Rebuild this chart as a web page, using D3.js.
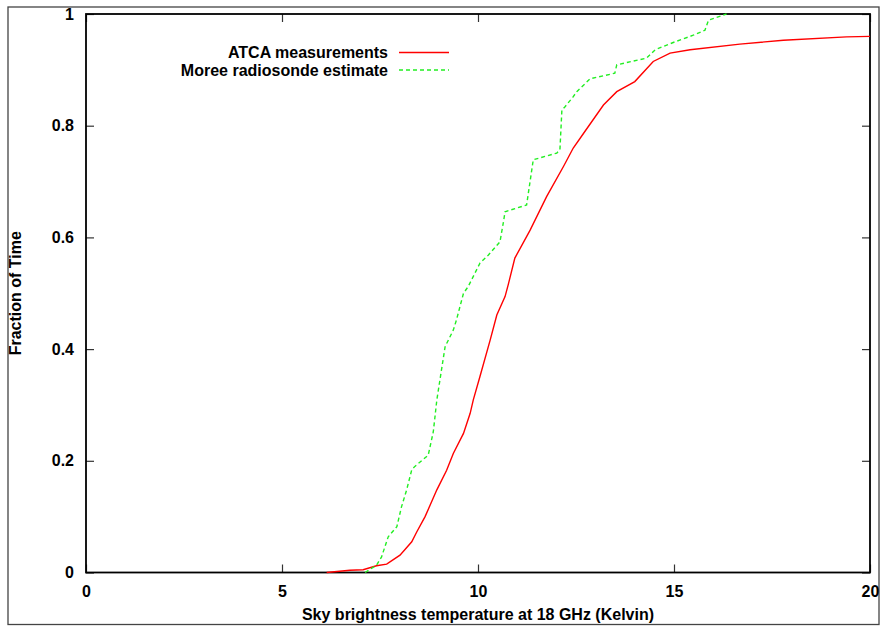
<!DOCTYPE html>
<html>
<head>
<meta charset="utf-8">
<script src="https://cdn.jsdelivr.net/npm/d3@7"></script>
<style>
  body { margin: 0; background: #fff; }
  svg text { font-family: "Liberation Sans", Arial, sans-serif; font-weight: bold; fill: #000; }
</style>
</head>
<body>
<div id="chart"></div>
<script>
// ATCA measurements (red, solid)
const atcaT = [6.14, 6.73, 7.07, 7.41, 7.67, 8.01, 8.31, 8.44, 8.65, 8.95, 9.20, 9.37, 9.63, 9.80, 9.88,
  10.05, 10.31, 10.48, 10.69, 10.77, 10.94, 11.33, 11.75, 12.18, 12.43, 12.69, 13.2, 13.54, 14.0,
  14.47, 14.9, 15.41, 16.68, 17.79, 19.4, 20];
const atcaFrac = [0, 0.004, 0.005, 0.012, 0.015, 0.031, 0.055, 0.073, 0.10, 0.148, 0.183, 0.213, 0.249, 0.285, 0.309,
  0.351, 0.416, 0.461, 0.494, 0.515, 0.563, 0.613, 0.673, 0.727, 0.76, 0.786, 0.837, 0.861, 0.879,
  0.915, 0.93, 0.936, 0.946, 0.953, 0.959, 0.96];

// Moree radiosonde estimate (green, dashed)
const moreeT = [7.12, 7.41, 7.54, 7.71, 7.93, 8.05, 8.18, 8.31, 8.39, 8.73, 8.86, 8.95, 9.16, 9.20, 9.37,
  9.45, 9.63, 9.75, 10.05, 10.26, 10.56, 10.65, 10.69, 11.24, 11.41, 12.01, 12.09, 12.14, 12.22,
  12.43, 12.52, 12.86, 13.49, 13.54, 14.30, 14.52, 14.98, 15.49, 15.79, 15.88, 16.34];
const moreeFrac = [0, 0.013, 0.028, 0.064, 0.082, 0.118, 0.148, 0.184, 0.19, 0.21, 0.252, 0.309, 0.404, 0.41, 0.434,
  0.452, 0.50, 0.512, 0.554, 0.568, 0.592, 0.628, 0.646, 0.658, 0.739, 0.751, 0.757, 0.828, 0.834,
  0.852, 0.861, 0.884, 0.894, 0.909, 0.921, 0.936, 0.949, 0.962, 0.971, 0.989, 1.0];

const xTicks = [0, 5, 10, 15, 20];
const yTicks = [0, 0.2, 0.4, 0.6, 0.8, 1];

const WIDTH = 881;
const HEIGHT = 630;
const PLOT_L = 86, PLOT_R = 870, PLOT_T = 14, PLOT_B = 572.5;

const svg = d3.select("#chart").append("svg")
  .attr("width", WIDTH).attr("height", HEIGHT);

// outer frame
svg.append("rect")
  .attr("x", 8).attr("y", 7)
  .attr("width", 871).attr("height", 617.5)
  .attr("fill", "none").attr("stroke", "#444").attr("stroke-width", 1.3);

const x = d3.scaleLinear().domain([0, 20]).range([PLOT_L, PLOT_R]);
const y = d3.scaleLinear().domain([0, 1]).range([PLOT_B, PLOT_T]);

// axes with inward ticks
const fmtY = d => d === 0 || d === 1 ? String(d) : d.toFixed(1);

const gx = svg.append("g").attr("transform", `translate(0,${PLOT_B})`)
  .call(d3.axisBottom(x).tickValues(xTicks).tickSize(-8).tickPadding(13).tickFormat(d3.format("d")));
const gxTop = svg.append("g").attr("transform", `translate(0,${PLOT_T})`)
  .call(d3.axisTop(x).tickValues(xTicks).tickSize(-8).tickFormat(""));
const gy = svg.append("g").attr("transform", `translate(${PLOT_L},0)`)
  .call(d3.axisLeft(y).tickValues(yTicks).tickSize(-8).tickPadding(12).tickFormat(fmtY));
const gyRight = svg.append("g").attr("transform", `translate(${PLOT_R},0)`)
  .call(d3.axisRight(y).tickValues(yTicks).tickSize(-8).tickFormat(""));

[gx, gxTop, gy, gyRight].forEach(g => {
  g.select(".domain").remove();
  g.selectAll(".tick line").attr("stroke", "#333").attr("stroke-width", 1.2);
  g.selectAll(".tick text").attr("font-size", 16).attr("font-family", null);
});

// plot box
svg.append("rect")
  .attr("x", PLOT_L).attr("y", PLOT_T)
  .attr("width", PLOT_R - PLOT_L).attr("height", PLOT_B - PLOT_T)
  .attr("fill", "none").attr("stroke", "#000").attr("stroke-width", 1.8);

const line = d3.line().x(d => x(d[0])).y(d => y(d[1]));

svg.append("path")
  .datum(atcaT.map((t, i) => [t, atcaFrac[i]]))
  .attr("d", line)
  .attr("fill", "none").attr("stroke", "#ff0000").attr("stroke-width", 1.4);

svg.append("path")
  .datum(moreeT.map((t, i) => [t, moreeFrac[i]]))
  .attr("d", line)
  .attr("fill", "none").attr("stroke", "#22ee22").attr("stroke-width", 1.4)
  .attr("stroke-dasharray", "4,3");

// legend
const legend = [
  { label: "ATCA measurements", color: "#ff0000", dash: null, yy: 52.5 },
  { label: "Moree radiosonde estimate", color: "#22ee22", dash: "4,3", yy: 70 }
];
legend.forEach(l => {
  svg.append("text")
    .attr("x", 388).attr("y", l.yy)
    .attr("dy", "0.35em").attr("text-anchor", "end")
    .attr("font-size", 16)
    .text(l.label);
  svg.append("line")
    .attr("x1", 399).attr("x2", 449)
    .attr("y1", l.yy).attr("y2", l.yy)
    .attr("stroke", l.color).attr("stroke-width", 1.4)
    .attr("stroke-dasharray", l.dash);
});

// axis titles
svg.append("text")
  .attr("x", (PLOT_L + PLOT_R) / 2).attr("y", 620)
  .attr("text-anchor", "middle").attr("font-size", 16)
  .text("Sky brightness temperature at 18 GHz (Kelvin)");

svg.append("text")
  .attr("transform", `translate(20.5,${(PLOT_T + PLOT_B) / 2}) rotate(-90)`)
  .attr("text-anchor", "middle").attr("font-size", 16)
  .text("Fraction of Time");
</script>
</body>
</html>
